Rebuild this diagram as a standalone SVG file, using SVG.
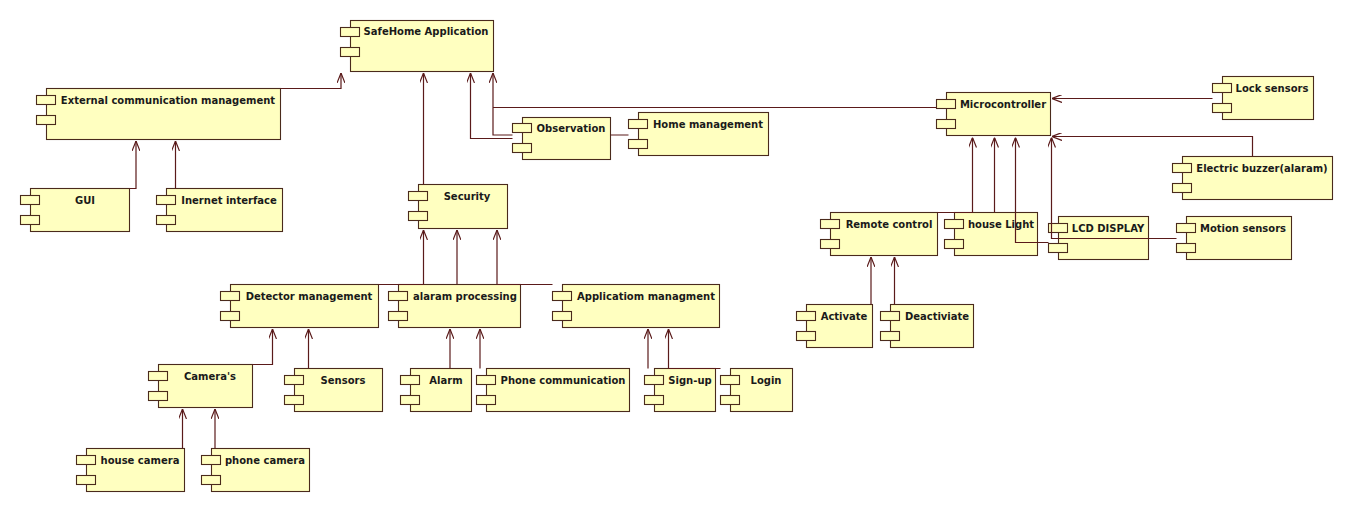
<svg xmlns="http://www.w3.org/2000/svg" width="1353" height="512" viewBox="0 0 1353 512">
  <style>
    .body { fill: #ffffc0; stroke: #4a2a1c; stroke-width: 1.1; }
    .tab { fill: #ffffc0; stroke: #4a2a1c; stroke-width: 1.1; }
    .label { font-family: "DejaVu Sans", Verdana, sans-serif; font-weight: bold; font-size: 10px; fill: #1a1a1a; text-anchor: middle; }
    .dep { fill: none; stroke: #5a1a1a; stroke-width: 1.2; }
  </style>
  <defs>
    <marker id="open-arrow" viewBox="0 0 10 8" refX="10" refY="4" markerWidth="10" markerHeight="8" markerUnits="userSpaceOnUse" orient="auto">
      <path d="M0,0 L10,4 L0,8" fill="none" stroke="#5a1a1a" stroke-width="1.2"/>
    </marker>
  </defs>
  <rect width="1353" height="512" fill="#ffffff"/>

  <!-- components -->
  <g id="safehome-application">
    <rect class="body" x="350.5" y="20.5" width="143" height="51"/>
    <rect class="tab" x="340.5" y="27.5" width="19" height="9"/>
    <rect class="tab" x="340.5" y="47.5" width="19" height="9"/>
    <text class="label" x="426" y="35">SafeHome Application</text>
  </g>
  <g id="external-communication">
    <rect class="body" x="46.5" y="88.5" width="234" height="51"/>
    <rect class="tab" x="36.5" y="95.5" width="19" height="9"/>
    <rect class="tab" x="36.5" y="115.5" width="19" height="9"/>
    <text class="label" x="168" y="103.5">External communication management</text>
  </g>
  <g id="gui">
    <rect class="body" x="30.5" y="188.5" width="99" height="43"/>
    <rect class="tab" x="20.5" y="195.5" width="19" height="9"/>
    <rect class="tab" x="20.5" y="215.5" width="19" height="9"/>
    <text class="label" x="85" y="203.5">GUI</text>
  </g>
  <g id="internet-interface">
    <rect class="body" x="166.5" y="188.5" width="116" height="43"/>
    <rect class="tab" x="156.5" y="195.5" width="19" height="9"/>
    <rect class="tab" x="156.5" y="215.5" width="19" height="9"/>
    <text class="label" x="229" y="203.5">Inernet interface</text>
  </g>
  <g id="security">
    <rect class="body" x="418.5" y="184.5" width="89" height="44"/>
    <rect class="tab" x="408.5" y="191.5" width="19" height="9"/>
    <rect class="tab" x="408.5" y="211.5" width="19" height="9"/>
    <text class="label" x="467" y="199.5">Security</text>
  </g>
  <g id="observation">
    <rect class="body" x="522.5" y="117.5" width="88" height="42"/>
    <rect class="tab" x="512.5" y="123.5" width="19" height="9"/>
    <rect class="tab" x="512.5" y="143.5" width="19" height="9"/>
    <text class="label" x="571" y="132">Observation</text>
  </g>
  <g id="home-management">
    <rect class="body" x="638.5" y="112.5" width="130" height="43"/>
    <rect class="tab" x="628.5" y="119.5" width="19" height="9"/>
    <rect class="tab" x="628.5" y="139.5" width="19" height="9"/>
    <text class="label" x="708" y="127.5">Home management</text>
  </g>
  <g id="microcontroller">
    <rect class="body" x="946.5" y="92.5" width="104" height="43"/>
    <rect class="tab" x="936.5" y="99.5" width="19" height="9"/>
    <rect class="tab" x="936.5" y="119.5" width="19" height="9"/>
    <text class="label" x="1003" y="107.5">Microcontroller</text>
  </g>
  <g id="lock-sensors">
    <rect class="body" x="1222.5" y="76.5" width="91" height="43"/>
    <rect class="tab" x="1212.5" y="83.5" width="19" height="9"/>
    <rect class="tab" x="1212.5" y="103.5" width="19" height="9"/>
    <text class="label" x="1272" y="91.5">Lock sensors</text>
  </g>
  <g id="electric-buzzer">
    <rect class="body" x="1182.5" y="156.5" width="150" height="43"/>
    <rect class="tab" x="1172.5" y="163.5" width="19" height="9"/>
    <rect class="tab" x="1172.5" y="183.5" width="19" height="9"/>
    <text class="label" x="1262" y="171.5">Electric buzzer(alaram)</text>
  </g>
  <g id="remote-control">
    <rect class="body" x="830.5" y="212.5" width="107" height="43"/>
    <rect class="tab" x="820.5" y="219.5" width="19" height="9"/>
    <rect class="tab" x="820.5" y="239.5" width="19" height="9"/>
    <text class="label" x="889" y="227.5">Remote control</text>
  </g>
  <g id="house-light">
    <rect class="body" x="954.5" y="212.5" width="83" height="43"/>
    <rect class="tab" x="944.5" y="219.5" width="19" height="9"/>
    <rect class="tab" x="944.5" y="239.5" width="19" height="9"/>
    <text class="label" x="1001" y="227.5">house Light</text>
  </g>
  <g id="lcd-display">
    <rect class="body" x="1058.5" y="216.5" width="90" height="43"/>
    <rect class="tab" x="1048.5" y="223.5" width="19" height="9"/>
    <rect class="tab" x="1048.5" y="243.5" width="19" height="9"/>
    <text class="label" x="1108" y="231.5">LCD DISPLAY</text>
  </g>
  <g id="motion-sensors">
    <rect class="body" x="1186.5" y="216.5" width="105" height="43"/>
    <rect class="tab" x="1176.5" y="223.5" width="19" height="9"/>
    <rect class="tab" x="1176.5" y="243.5" width="19" height="9"/>
    <text class="label" x="1243" y="231.5">Motion sensors</text>
  </g>
  <g id="activate">
    <rect class="body" x="806.5" y="304.5" width="66" height="43"/>
    <rect class="tab" x="796.5" y="311.5" width="19" height="9"/>
    <rect class="tab" x="796.5" y="331.5" width="19" height="9"/>
    <text class="label" x="844" y="319.5">Activate</text>
  </g>
  <g id="deactivate">
    <rect class="body" x="890.5" y="304.5" width="83" height="43"/>
    <rect class="tab" x="880.5" y="311.5" width="19" height="9"/>
    <rect class="tab" x="880.5" y="331.5" width="19" height="9"/>
    <text class="label" x="937" y="319.5">Deactiviate</text>
  </g>
  <g id="detector-management">
    <rect class="body" x="230.5" y="284.5" width="148" height="43"/>
    <rect class="tab" x="220.5" y="291.5" width="19" height="9"/>
    <rect class="tab" x="220.5" y="311.5" width="19" height="9"/>
    <text class="label" x="309" y="299.5">Detector management</text>
  </g>
  <g id="alarm-processing">
    <rect class="body" x="398.5" y="284.5" width="122" height="43"/>
    <rect class="tab" x="388.5" y="291.5" width="19" height="9"/>
    <rect class="tab" x="388.5" y="311.5" width="19" height="9"/>
    <text class="label" x="465" y="299.5">alaram processing</text>
  </g>
  <g id="application-management">
    <rect class="body" x="562.5" y="284.5" width="157" height="43"/>
    <rect class="tab" x="552.5" y="291.5" width="19" height="9"/>
    <rect class="tab" x="552.5" y="311.5" width="19" height="9"/>
    <text class="label" x="646" y="299.5">Applicatiom managment</text>
  </g>
  <g id="cameras">
    <rect class="body" x="158.5" y="364.5" width="94" height="43"/>
    <rect class="tab" x="148.5" y="371.5" width="19" height="9"/>
    <rect class="tab" x="148.5" y="391.5" width="19" height="9"/>
    <text class="label" x="210" y="379.5">Camera's</text>
  </g>
  <g id="sensors">
    <rect class="body" x="294.5" y="368.5" width="88" height="43"/>
    <rect class="tab" x="284.5" y="375.5" width="19" height="9"/>
    <rect class="tab" x="284.5" y="395.5" width="19" height="9"/>
    <text class="label" x="343" y="383.5">Sensors</text>
  </g>
  <g id="alarm">
    <rect class="body" x="410.5" y="368.5" width="61" height="43"/>
    <rect class="tab" x="400.5" y="375.5" width="19" height="9"/>
    <rect class="tab" x="400.5" y="395.5" width="19" height="9"/>
    <text class="label" x="446" y="383.5">Alarm</text>
  </g>
  <g id="phone-communication">
    <rect class="body" x="486.5" y="368.5" width="143" height="43"/>
    <rect class="tab" x="476.5" y="375.5" width="19" height="9"/>
    <rect class="tab" x="476.5" y="395.5" width="19" height="9"/>
    <text class="label" x="563" y="383.5">Phone communication</text>
  </g>
  <g id="sign-up">
    <rect class="body" x="654.5" y="368.5" width="61" height="43"/>
    <rect class="tab" x="644.5" y="375.5" width="19" height="9"/>
    <rect class="tab" x="644.5" y="395.5" width="19" height="9"/>
    <text class="label" x="690" y="383.5">Sign-up</text>
  </g>
  <g id="login">
    <rect class="body" x="730.5" y="368.5" width="62" height="43"/>
    <rect class="tab" x="720.5" y="375.5" width="19" height="9"/>
    <rect class="tab" x="720.5" y="395.5" width="19" height="9"/>
    <text class="label" x="766" y="383.5">Login</text>
  </g>
  <g id="house-camera">
    <rect class="body" x="86.5" y="448.5" width="98" height="43"/>
    <rect class="tab" x="76.5" y="455.5" width="19" height="9"/>
    <rect class="tab" x="76.5" y="475.5" width="19" height="9"/>
    <text class="label" x="140" y="463.5">house camera</text>
  </g>
  <g id="phone-camera">
    <rect class="body" x="211.5" y="448.5" width="98" height="43"/>
    <rect class="tab" x="201.5" y="455.5" width="19" height="9"/>
    <rect class="tab" x="201.5" y="475.5" width="19" height="9"/>
    <text class="label" x="265" y="463.5">phone camera</text>
  </g>

  <!-- dependencies -->
  <g id="connectors">
    <path class="dep" d="M280.5,88.5 H341 V73" marker-end="url(#open-arrow)"/>
    <path class="dep" d="M129.5,188.5 H136 V141" marker-end="url(#open-arrow)"/>
    <path class="dep" d="M175.5,188.5 V141" marker-end="url(#open-arrow)"/>
    <path class="dep" d="M423.5,184.5 V73" marker-end="url(#open-arrow)"/>
    <path class="dep" d="M512.5,138.5 H470.5 V73" marker-end="url(#open-arrow)"/>
    <path class="dep" d="M628.5,135 H610.5 M512.5,135 H493 V73" marker-end="url(#open-arrow)"/>
    <path class="dep" d="M936.5,107.5 H493"/>
    <path class="dep" d="M378.5,284.5 H423.5 V230" marker-end="url(#open-arrow)"/>
    <path class="dep" d="M457,284.5 V230" marker-end="url(#open-arrow)"/>
    <path class="dep" d="M552.5,284.5 H497 V230" marker-end="url(#open-arrow)"/>
    <path class="dep" d="M252.5,364.5 H272.5 V329" marker-end="url(#open-arrow)"/>
    <path class="dep" d="M308.5,368.5 V329" marker-end="url(#open-arrow)"/>
    <path class="dep" d="M182.5,448.5 V409" marker-end="url(#open-arrow)"/>
    <path class="dep" d="M215,448.5 V409" marker-end="url(#open-arrow)"/>
    <path class="dep" d="M450,368.5 V329" marker-end="url(#open-arrow)"/>
    <path class="dep" d="M480,368.5 V329" marker-end="url(#open-arrow)"/>
    <path class="dep" d="M648,368.5 V329" marker-end="url(#open-arrow)"/>
    <path class="dep" d="M720.5,368.5 H668.5 V329" marker-end="url(#open-arrow)"/>
    <path class="dep" d="M871,304.5 V257" marker-end="url(#open-arrow)"/>
    <path class="dep" d="M894.5,304.5 V257" marker-end="url(#open-arrow)"/>
    <path class="dep" d="M937.5,212.5 H972.5 V137.5" marker-end="url(#open-arrow)"/>
    <path class="dep" d="M994.5,212.5 V137.5" marker-end="url(#open-arrow)"/>
    <path class="dep" d="M1048.5,242.5 H1015.5 V137.5" marker-end="url(#open-arrow)"/>
    <path class="dep" d="M1176.5,238.5 H1051.5 V137.5" marker-end="url(#open-arrow)"/>
    <path class="dep" d="M1212.5,98.5 H1052" marker-end="url(#open-arrow)"/>
    <path class="dep" d="M1252.5,156.5 V136.5 H1052" marker-end="url(#open-arrow)"/>
  </g>
</svg>
